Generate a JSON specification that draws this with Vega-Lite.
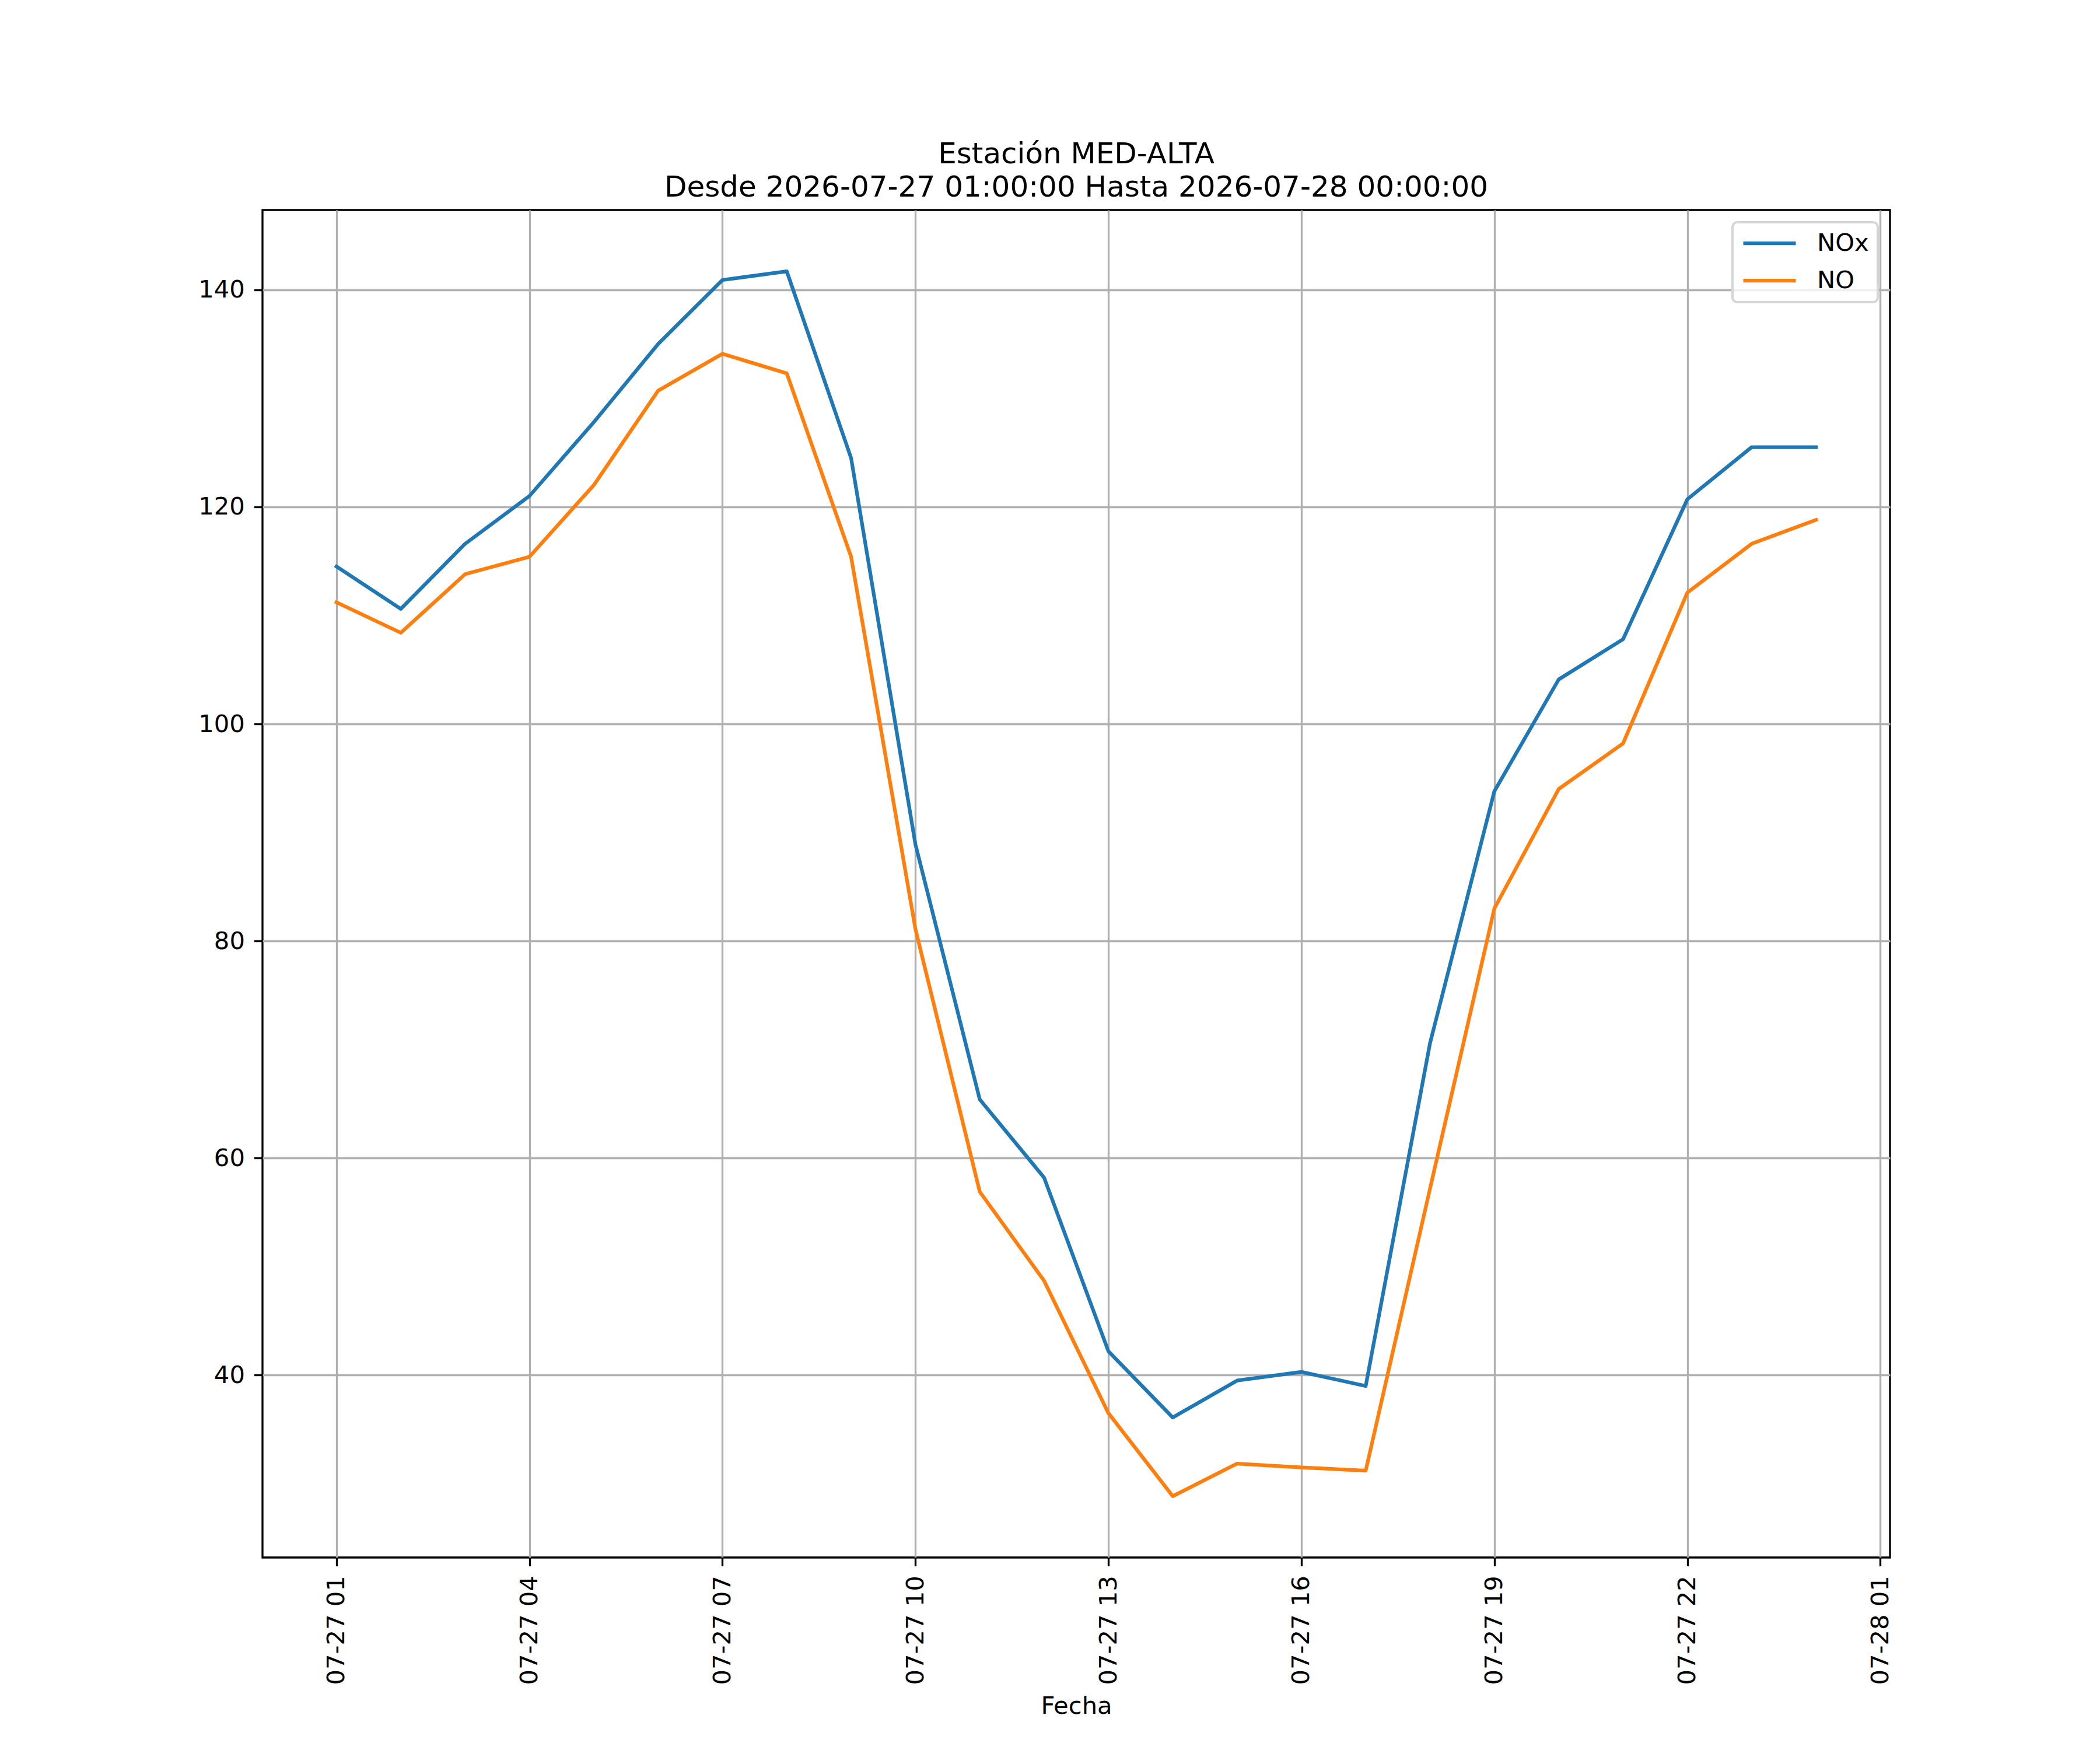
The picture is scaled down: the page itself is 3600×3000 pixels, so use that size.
{
  "$schema": "https://vega.github.io/schema/vega-lite/v6.json",
  "description": "NOx and NO readings at station MED-ALTA, hourly, 2026-07-27.",
  "width": 2790,
  "height": 2310,
  "autosize": {"type": "none"},
  "padding": {"left": 450, "top": 360, "right": 360, "bottom": 330},
  "background": "white",
  "title": {
    "text": ["Estación MED-ALTA", "Desde 2026-07-27 01:00:00 Hasta 2026-07-28 00:00:00"],
    "font": "DejaVu Sans",
    "fontSize": 50,
    "fontWeight": "normal",
    "color": "black",
    "anchor": "middle",
    "baseline": "bottom",
    "lineHeight": 57,
    "offset": -37
  },
  "data": {
    "values": [
      {"fecha": "2026-07-27T01:00:00", "serie": "NOx", "valor": 114.5},
      {"fecha": "2026-07-27T02:00:00", "serie": "NOx", "valor": 110.6},
      {"fecha": "2026-07-27T03:00:00", "serie": "NOx", "valor": 116.6},
      {"fecha": "2026-07-27T04:00:00", "serie": "NOx", "valor": 121.0},
      {"fecha": "2026-07-27T05:00:00", "serie": "NOx", "valor": 127.8},
      {"fecha": "2026-07-27T06:00:00", "serie": "NOx", "valor": 135.0},
      {"fecha": "2026-07-27T07:00:00", "serie": "NOx", "valor": 140.9},
      {"fecha": "2026-07-27T08:00:00", "serie": "NOx", "valor": 141.7},
      {"fecha": "2026-07-27T09:00:00", "serie": "NOx", "valor": 124.5},
      {"fecha": "2026-07-27T10:00:00", "serie": "NOx", "valor": 88.9},
      {"fecha": "2026-07-27T11:00:00", "serie": "NOx", "valor": 65.4},
      {"fecha": "2026-07-27T12:00:00", "serie": "NOx", "valor": 58.2},
      {"fecha": "2026-07-27T13:00:00", "serie": "NOx", "valor": 42.2},
      {"fecha": "2026-07-27T14:00:00", "serie": "NOx", "valor": 36.1},
      {"fecha": "2026-07-27T15:00:00", "serie": "NOx", "valor": 39.5},
      {"fecha": "2026-07-27T16:00:00", "serie": "NOx", "valor": 40.3},
      {"fecha": "2026-07-27T17:00:00", "serie": "NOx", "valor": 39.0},
      {"fecha": "2026-07-27T18:00:00", "serie": "NOx", "valor": 70.6},
      {"fecha": "2026-07-27T19:00:00", "serie": "NOx", "valor": 93.8},
      {"fecha": "2026-07-27T20:00:00", "serie": "NOx", "valor": 104.1},
      {"fecha": "2026-07-27T21:00:00", "serie": "NOx", "valor": 107.8},
      {"fecha": "2026-07-27T22:00:00", "serie": "NOx", "valor": 120.7},
      {"fecha": "2026-07-27T23:00:00", "serie": "NOx", "valor": 125.5},
      {"fecha": "2026-07-28T00:00:00", "serie": "NOx", "valor": 125.5},
      {"fecha": "2026-07-27T01:00:00", "serie": "NO", "valor": 111.2},
      {"fecha": "2026-07-27T02:00:00", "serie": "NO", "valor": 108.4},
      {"fecha": "2026-07-27T03:00:00", "serie": "NO", "valor": 113.8},
      {"fecha": "2026-07-27T04:00:00", "serie": "NO", "valor": 115.4},
      {"fecha": "2026-07-27T05:00:00", "serie": "NO", "valor": 122.0},
      {"fecha": "2026-07-27T06:00:00", "serie": "NO", "valor": 130.7},
      {"fecha": "2026-07-27T07:00:00", "serie": "NO", "valor": 134.1},
      {"fecha": "2026-07-27T08:00:00", "serie": "NO", "valor": 132.3},
      {"fecha": "2026-07-27T09:00:00", "serie": "NO", "valor": 115.4},
      {"fecha": "2026-07-27T10:00:00", "serie": "NO", "valor": 81.1},
      {"fecha": "2026-07-27T11:00:00", "serie": "NO", "valor": 56.9},
      {"fecha": "2026-07-27T12:00:00", "serie": "NO", "valor": 48.7},
      {"fecha": "2026-07-27T13:00:00", "serie": "NO", "valor": 36.5},
      {"fecha": "2026-07-27T14:00:00", "serie": "NO", "valor": 28.85},
      {"fecha": "2026-07-27T15:00:00", "serie": "NO", "valor": 31.85},
      {"fecha": "2026-07-27T16:00:00", "serie": "NO", "valor": 31.5},
      {"fecha": "2026-07-27T17:00:00", "serie": "NO", "valor": 31.2},
      {"fecha": "2026-07-27T18:00:00", "serie": "NO", "valor": 57.2},
      {"fecha": "2026-07-27T19:00:00", "serie": "NO", "valor": 83.0},
      {"fecha": "2026-07-27T20:00:00", "serie": "NO", "valor": 94.0},
      {"fecha": "2026-07-27T21:00:00", "serie": "NO", "valor": 98.2},
      {"fecha": "2026-07-27T22:00:00", "serie": "NO", "valor": 112.1},
      {"fecha": "2026-07-27T23:00:00", "serie": "NO", "valor": 116.6},
      {"fecha": "2026-07-28T00:00:00", "serie": "NO", "valor": 118.8}
    ]
  },
  "mark": {"type": "line", "strokeWidth": 6.25, "strokeCap": "square", "strokeJoin": "round"},
  "encoding": {
    "x": {
      "field": "fecha",
      "type": "temporal",
      "title": "Fecha",
      "scale": {
        "domain": [
          {"year": 2026, "month": 7, "date": 26, "hours": 23, "minutes": 51},
          {"year": 2026, "month": 7, "date": 28, "hours": 1, "minutes": 9}
        ]
      },
      "axis": {
        "format": "%m-%d %H",
        "labelAngle": 270,
        "labelPadding": 16,
        "labelLimit": 0,
        "titleY": 267,
        "titleBaseline": "alphabetic",
        "values": [
          {"year": 2026, "month": 7, "date": 27, "hours": 1},
          {"year": 2026, "month": 7, "date": 27, "hours": 4},
          {"year": 2026, "month": 7, "date": 27, "hours": 7},
          {"year": 2026, "month": 7, "date": 27, "hours": 10},
          {"year": 2026, "month": 7, "date": 27, "hours": 13},
          {"year": 2026, "month": 7, "date": 27, "hours": 16},
          {"year": 2026, "month": 7, "date": 27, "hours": 19},
          {"year": 2026, "month": 7, "date": 27, "hours": 22},
          {"year": 2026, "month": 7, "date": 28, "hours": 1}
        ]
      }
    },
    "y": {
      "field": "valor",
      "type": "quantitative",
      "title": null,
      "scale": {"domain": [23.2, 147.35], "nice": false, "zero": false},
      "axis": {"values": [40, 60, 80, 100, 120, 140], "labelPadding": 16}
    },
    "color": {
      "field": "serie",
      "type": "nominal",
      "title": null,
      "scale": {"domain": ["NOx", "NO"], "range": ["#1f77b4", "#ff7f0e"]},
      "legend": {
        "orient": "top-right",
        "offset": 21,
        "padding": 15,
        "symbolType": "stroke",
        "symbolSize": 8100,
        "symbolStrokeWidth": 6.25,
        "labelOffset": 33,
        "rowPadding": 21,
        "clipHeight": 42
      }
    }
  },
  "config": {
    "font": "DejaVu Sans",
    "view": {"stroke": "black", "strokeWidth": 3.33},
    "axis": {
      "domain": false,
      "grid": true,
      "gridColor": "#b0b0b0",
      "gridWidth": 3.33,
      "tickColor": "black",
      "tickWidth": 3.33,
      "tickSize": 14.6,
      "labelFont": "DejaVu Sans",
      "labelFontSize": 41.7,
      "labelColor": "black",
      "labelOverlap": false,
      "labelFlush": false,
      "labelBound": false,
      "titleFont": "DejaVu Sans",
      "titleFontSize": 41.7,
      "titleFontWeight": "normal",
      "titleColor": "black"
    },
    "legend": {
      "labelFont": "DejaVu Sans",
      "labelFontSize": 41.7,
      "labelColor": "black",
      "strokeColor": "#d6d6d6",
      "strokeWidth": 4,
      "fillColor": "rgba(255,255,255,0.8)",
      "cornerRadius": 8
    }
  }
}
